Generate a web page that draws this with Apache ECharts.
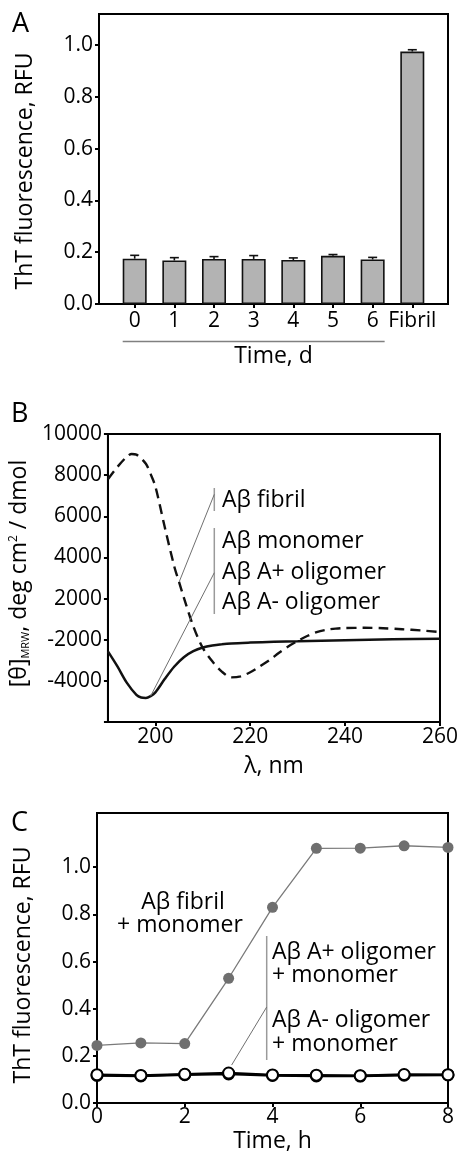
<!DOCTYPE html>
<html><head><meta charset="utf-8">
<script src="https://cdn.jsdelivr.net/npm/echarts@6/dist/echarts.min.js"></script>
<style>html,body{margin:0;padding:0;background:#fff}#c{width:461px;height:1155px}</style>
</head><body><div id="c"></div>
<script>
// ---------- Panel A : ThT fluorescence of monomer over days ----------
const daysCategories = ['0','1','2','3','4','5','6','Fibril'];
const thtMeans   = [0.175,0.168,0.174,0.174,0.170,0.186,0.172,0.975];
const thtErrTops = [0.188,0.179,0.183,0.187,0.178,0.191,0.180,0.982];
const yTicksA = [0,0.2,0.4,0.6,0.8,1.0];
const xTicksA = [0,1,2,3,4,5,6,7];

// ---------- Panel B : CD spectra ----------
const lambdaFibril = [190,192,194,195,196,198,199,200,202,204,205,206,208,210,212,214,216,218,220,222,224,226,228,230,232,234,236,238,240,244,248,252,256,260];
const cdFibril     = [7800,8400,8900,9030,9000,8550,8050,7450,5450,3550,2800,2050,650,-400,-1050,-1550,-1830,-1780,-1580,-1300,-1000,-650,-330,-60,180,370,480,540,565,580,560,510,450,375];
const lambdaMonomerOligomers = [190,192,194,196,197,198,199,200,202,204,206,208,210,212,214,216,220,225,230,240,250,260];
const cdMonomerOligomers     = [-570,-1300,-2100,-2680,-2810,-2830,-2740,-2560,-1900,-1300,-850,-560,-380,-280,-220,-180,-140,-100,-80,-20,20,50];
const yTickValuesB = [10000,8000,6000,4000,2000,0,-2000];
const yTickLabelsB = ['10000','8000','6000','4000','2000','-2000','-4000'];
const yTickMarksB  = [10000,8000,6000,4000,2000,0,-2000,-4000];
const xTicksB = [200,220,240,260];

// ---------- Panel C : seeding kinetics ----------
const hours = [0,1,2,3,4,5,6,7,8];
const fibrilSeeded  = [0.244,0.255,0.252,0.529,0.830,1.080,1.081,1.091,1.084];
const aPlusSeeded   = [0.120,0.117,0.122,0.127,0.119,0.118,0.116,0.121,0.120];
const aMinusSeeded  = [0.117,0.115,0.120,0.123,0.117,0.115,0.114,0.118,0.119];
const yTicksC = [0,0.2,0.4,0.6,0.8,1.0];

const FONT = 'Open Sans';
const BLACK = '#000';
const pair = (xs, ys) => xs.map((x, i) => [x, ys[i]]);

const chart = echarts.init(document.getElementById('c'), null, {renderer: 'canvas'});

const axisCommon = (extra) => Object.assign({
  axisLine: {show: true, onZero: false, lineStyle: {color: BLACK, width: 2}},
  splitLine: {show: false},
}, extra);
const titleStyle = (pad) => ({fontFamily: FONT, fontSize: 23, color: BLACK, padding: pad || 0});

const option = {
  animation: false,
  backgroundColor: '#fff',
  textStyle: {fontFamily: FONT},
  grid: [
    {left: 99, top: 14, width: 349, height: 290, show: true, borderColor: BLACK, borderWidth: 2, backgroundColor: 'transparent'},
    {left: 99, top: 434, width: 349, height: 288, show: true, borderColor: BLACK, borderWidth: 2, backgroundColor: 'transparent'},
    {left: 97, top: 813, width: 351, height: 290, show: true, borderColor: BLACK, borderWidth: 2, backgroundColor: 'transparent'}
  ],
  xAxis: [
    axisCommon({
      gridIndex: 0, type: 'value', min: -0.9, max: 7.9,
      axisTick: {show: true, length: 4, customValues: xTicksA, lineStyle: {color: BLACK, width: 2}},
      axisLabel: {customValues: xTicksA, formatter: v => daysCategories[Math.round(v)], fontSize: 21, margin: 7, color: BLACK, fontFamily: FONT},
      name: 'Time, d', nameLocation: 'middle', nameGap: 41, nameTextStyle: titleStyle()
    }),
    axisCommon({
      gridIndex: 1, type: 'value', min: 190, max: 260,
      axisTick: {show: true, length: 4, customValues: xTicksB, lineStyle: {color: BLACK, width: 2}},
      axisLabel: {customValues: xTicksB, fontSize: 21, margin: 5, color: BLACK, fontFamily: FONT},
      name: 'λ, nm', nameLocation: 'middle', nameGap: 33, nameTextStyle: titleStyle()
    }),
    axisCommon({
      gridIndex: 2, type: 'value', min: 0, max: 8, interval: 2,
      axisTick: {show: true, length: 4, lineStyle: {color: BLACK, width: 2}},
      axisLabel: {fontSize: 21, margin: 4, color: BLACK, fontFamily: FONT},
      name: 'Time, h', nameLocation: 'middle', nameGap: 27, nameTextStyle: titleStyle()
    })
  ],
  yAxis: [
    axisCommon({
      gridIndex: 0, type: 'value', min: 0, max: 1.12,
      axisTick: {show: true, length: 4, customValues: yTicksA, lineStyle: {color: BLACK, width: 2}},
      axisLabel: {customValues: yTicksA, formatter: v => v.toFixed(1), fontSize: 21, margin: 6, color: BLACK, fontFamily: FONT},
      name: 'ThT fluorescence, RFU', nameLocation: 'middle', nameGap: 62, nameTextStyle: titleStyle([0, 24, 0, 0])
    }),
    axisCommon({
      gridIndex: 1, type: 'value', min: -4000, max: 10000,
      axisTick: {show: true, length: 4, customValues: yTickMarksB, lineStyle: {color: BLACK, width: 2}},
      axisLabel: {customValues: yTickValuesB, formatter: v => yTickLabelsB[yTickValuesB.indexOf(v)], fontSize: 21, margin: 6, color: BLACK, fontFamily: FONT},
      name: '[θ]{sub|MRW}, deg cm{sup|2} / dmol', nameLocation: 'middle', nameGap: 62,
      nameTextStyle: {fontFamily: FONT, fontSize: 23, color: BLACK, padding: [0, 0, 0, 9],
        rich: {sub: {fontFamily: FONT, fontSize: 11, color: BLACK, verticalAlign: 'bottom'},
               sup: {fontFamily: FONT, fontSize: 12, color: BLACK, verticalAlign: 'top'}}}
    }),
    axisCommon({
      gridIndex: 2, type: 'value', min: 0, max: 1.23,
      axisTick: {show: true, length: 4, customValues: yTicksC, lineStyle: {color: BLACK, width: 2}},
      axisLabel: {customValues: yTicksC, formatter: v => v.toFixed(1), fontSize: 21, margin: 6, color: BLACK, fontFamily: FONT},
      name: 'ThT fluorescence, RFU', nameLocation: 'middle', nameGap: 62, nameTextStyle: titleStyle([0, 14, 0, 0])
    })
  ],
  series: [
    {
      type: 'bar', xAxisIndex: 0, yAxisIndex: 0, barWidth: 24,
      data: thtMeans.map((v, i) => [i, v]),
      itemStyle: {color: '#b3b3b3', borderColor: '#111', borderWidth: 1.6}
    },
    {
      type: 'custom', xAxisIndex: 0, yAxisIndex: 0, z: 5,
      data: thtMeans.map((v, i) => [i, v, thtErrTops[i]]),
      encode: {x: 0, y: [1, 2]},
      renderItem: (params, api) => {
        const x = api.value(0);
        const lo = api.coord([x, api.value(1)]);
        const hi = api.coord([x, api.value(2)]);
        return {type: 'group', children: [
          {type: 'line', shape: {x1: lo[0], y1: lo[1], x2: hi[0], y2: hi[1]}, style: {stroke: '#111', lineWidth: 1.6}},
          {type: 'line', shape: {x1: hi[0] - 4.5, y1: hi[1], x2: hi[0] + 4.5, y2: hi[1]}, style: {stroke: '#111', lineWidth: 1.6}}
        ]};
      }
    },
    {
      name: 'Aβ fibril', type: 'line', xAxisIndex: 1, yAxisIndex: 1, smooth: 0.3, showSymbol: false,
      data: pair(lambdaFibril, cdFibril),
      lineStyle: {color: '#111', width: 2.4, type: [10, 6]}
    },
    {
      name: 'Aβ monomer / A+ / A- oligomer', type: 'line', xAxisIndex: 1, yAxisIndex: 1, smooth: 0.3, showSymbol: false,
      data: pair(lambdaMonomerOligomers, cdMonomerOligomers),
      lineStyle: {color: '#111', width: 2.5}
    },
    {
      name: 'fibril+monomer', type: 'line', xAxisIndex: 2, yAxisIndex: 2,
      data: pair(hours, fibrilSeeded), symbol: 'circle', symbolSize: 11,
      itemStyle: {color: '#6f6f6f'}, lineStyle: {color: '#7a7a7a', width: 1.3}
    },
    {
      name: 'A- line', type: 'line', xAxisIndex: 2, yAxisIndex: 2, showSymbol: false, z: 2,
      data: pair(hours, aMinusSeeded), lineStyle: {color: '#000', width: 2.5}
    },
    {
      name: 'A+ line', type: 'line', xAxisIndex: 2, yAxisIndex: 2, showSymbol: false, z: 2,
      data: pair(hours, aPlusSeeded), lineStyle: {color: '#000', width: 2.5}
    },
    {
      name: 'A- points', type: 'scatter', xAxisIndex: 2, yAxisIndex: 2, z: 4,
      data: pair(hours, aMinusSeeded), symbol: 'circle', symbolSize: 11,
      itemStyle: {color: '#fff', borderColor: '#000', borderWidth: 2, opacity: 1}
    },
    {
      name: 'A+ points', type: 'scatter', xAxisIndex: 2, yAxisIndex: 2, z: 4,
      data: pair(hours, aPlusSeeded), symbol: 'circle', symbolSize: 11,
      itemStyle: {color: '#fff', borderColor: '#000', borderWidth: 2, opacity: 1}
    }
  ]
};
chart.setOption(option);

// ---------- annotations (layout) ----------
const txt = (text, x, y, size, align, rot) => ({
  type: 'text', x: x, y: y, rotation: rot || 0, z: 10,
  style: {text: text, fill: BLACK, font: size + 'px "' + FONT + '"', align: align || 'left', verticalAlign: 'middle',
          textAlign: align || 'left', textVerticalAlign: 'middle'}
});
const ln = (x1, y1, x2, y2, color, w) => ({
  type: 'line', z: 10, shape: {x1: x1, y1: y1, x2: x2, y2: y2}, style: {stroke: color, lineWidth: w}
});

const pA0 = chart.convertToPixel({xAxisIndex: 0, yAxisIndex: 0}, [0, 0]);
const pA6 = chart.convertToPixel({xAxisIndex: 0, yAxisIndex: 0}, [6, 0]);
const iFib = lambdaFibril.indexOf(205);
const pFib = chart.convertToPixel({xAxisIndex: 1, yAxisIndex: 1}, [lambdaFibril[iFib], cdFibril[iFib]]);
const iMon = lambdaMonomerOligomers.indexOf(199);
const pMon = chart.convertToPixel({xAxisIndex: 1, yAxisIndex: 1}, [lambdaMonomerOligomers[iMon], cdMonomerOligomers[iMon]]);
const pOli = chart.convertToPixel({xAxisIndex: 2, yAxisIndex: 2}, [hours[3], aPlusSeeded[3]]);

const graphics = [
  txt('A', 12, 24, 27, 'left'),
  txt('B', 11, 414, 27, 'left'),
  txt('C', 11, 823, 27, 'left'),
  ln(pA0[0] - 12, 341.5, pA6[0] + 12, 341.5, '#808080', 1.5),
  // Panel B legend
  ln(214.3, 488, 214.3, 511, '#9a9a9a', 1.5),
  ln(214.3, 528, 214.3, 614, '#9a9a9a', 1.5),
  ln(214.3, 494.3, pFib[0], pFib[1], '#707070', 1),
  ln(214.3, 572.7, pMon[0], pMon[1], '#707070', 1),
  txt('Aβ fibril', 222, 500, 23),
  txt('Aβ monomer', 222, 541, 23),
  txt('Aβ A+ oligomer', 222, 572, 23),
  txt('Aβ A- oligomer', 222, 602, 23),
  // Panel C legend
  txt('Aβ fibril', 183, 902, 23, 'center'),
  txt('+ monomer', 180, 925, 23, 'center'),
  ln(266.7, 936, 266.7, 1060, '#9a9a9a', 1.5),
  ln(266.7, 1007, pOli[0] + 3, pOli[1] - 8, '#707070', 1),
  txt('Aβ A+ oligomer', 272, 952, 23),
  txt('+ monomer', 272, 975, 23),
  txt('Aβ A- oligomer', 272, 1020, 23),
  txt('+ monomer', 272, 1044, 23)
];
chart.setOption({graphic: graphics});
</script>
</body></html>
